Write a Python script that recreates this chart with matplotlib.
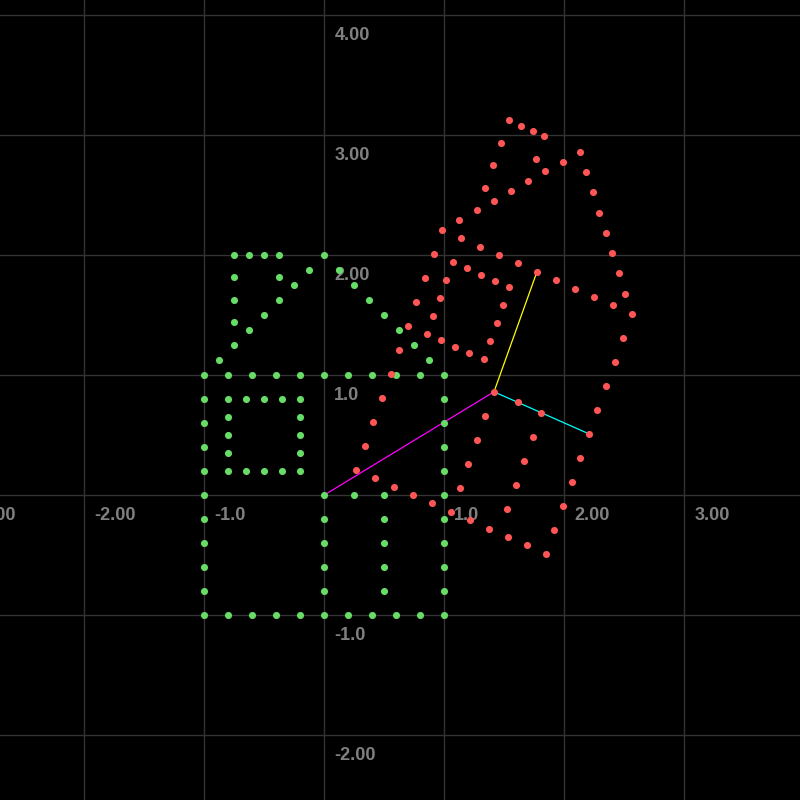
import numpy as np
import matplotlib
matplotlib.use("Agg")
import matplotlib.pyplot as plt

# 原始图形（绿色房子）各点坐标
wall_x = [-1, -0.8, -0.6, -0.4, -0.2, 0, 0.2, 0.4, 0.6, 0.8, 1,
          -1, -0.8, -0.6, -0.4, -0.2, 0, 0.2, 0.4, 0.6, 0.8, 1,
          -1, -1, -1, -1, -1, -1, -1, -1, -1,
          1, 1, 1, 1, 1, 1, 1, 1, 1]
wall_y = [1, 1, 1, 1, 1, 1, 1, 1, 1, 1, 1,
          -1, -1, -1, -1, -1, -1, -1, -1, -1, -1, -1,
          0.8, 0.6, 0.4, 0.2, 0, -0.2, -0.4, -0.6, -0.8,
          0.8, 0.6, 0.4, 0.2, 0, -0.2, -0.4, -0.6, -0.8]

door_x = [0, 0, 0, 0, 0, 0.25, 0.5, 0.5, 0.5, 0.5, 0.5]
door_y = [0, -0.2, -0.4, -0.6, -0.8, 0, 0, -0.2, -0.4, -0.6, -0.8]

window_x = [-0.8, -0.65, -0.5, -0.35, -0.2, -0.8, -0.65, -0.5, -0.35, -0.2,
            -0.8, -0.8, -0.8, -0.2, -0.2, -0.2]
window_y = [0.8, 0.8, 0.8, 0.8, 0.8, 0.2, 0.2, 0.2, 0.2, 0.2,
            0.65, 0.5, 0.35, 0.65, 0.5, 0.35]

roof_x = [-0.875, -0.75, -0.625, -0.5, -0.375, -0.25, -0.125, 0,
          0.125, 0.25, 0.375, 0.5, 0.625, 0.75, 0.875]
roof_y = [1.125, 1.25, 1.375, 1.5, 1.625, 1.75, 1.875, 2,
          1.875, 1.75, 1.625, 1.5, 1.375, 1.25, 1.125]

chimney_x = [-0.75, -0.75, -0.75, -0.75, -0.625, -0.5, -0.375, -0.375]
chimney_y = [1.4375, 1.625, 1.8125, 2, 2, 2, 2, 1.8125]

# 变换：平移向量与矩阵的两列
shift = [1.414, 0.86]
col_i = [0.79, -0.35]   # 青色
col_j = [0.358, 1.0]    # 黄色

# 坐标轴刻度标签
x_ticks = [-3, -2, -1, 1, 2, 3]
x_labels = ["-3.00", "-2.00", "-1.0", "1.0", "2.00", "3.00"]
y_ticks = [4, 3, 2, 1, -1, -2]
y_labels = ["4.00", "3.00", "2.00", "1.0", "-1.0", "-2.00"]

green_x = np.array(wall_x + door_x + window_x + roof_x + chimney_x, dtype=float)
green_y = np.array(wall_y + door_y + window_y + roof_y + chimney_y, dtype=float)

# 变换后的点（红色）
red_x = shift[0] + col_i[0] * green_x + col_j[0] * green_y
red_y = shift[1] + col_i[1] * green_x + col_j[1] * green_y

fig = plt.figure(figsize=(8, 8), dpi=100, facecolor="black")
ax = fig.add_axes([0, 0, 1, 1])
ax.set_facecolor("black")
ax.set_xticks(range(-3, 5))
ax.set_yticks(range(-3, 5))
# 刻度设完后再定范围，否则会被撑大
ax.set_xlim(-2.7025, 3.964)
ax.set_ylim(-2.5417, 4.125)
ax.grid(True, color="#333333", linewidth=1.0, zorder=0)
ax.set_axisbelow(True)
ax.tick_params(length=0, labelbottom=False, labelleft=False)
for s in ax.spines.values():
    s.set_visible(False)

# 刻度文字
for v, lab in zip(x_ticks, x_labels):
    ax.annotate(lab, xy=(v, 0), xytext=(7.2, -18), textcoords="offset points",
                ha="left", va="baseline", fontsize=13, fontweight="bold",
                color="#808080", family=["Liberation Sans", "DejaVu Sans"],
                annotation_clip=False, zorder=1)
for v, lab in zip(y_ticks, y_labels):
    ax.annotate(lab, xy=(0, v), xytext=(7.2, -18), textcoords="offset points",
                ha="left", va="baseline", fontsize=13, fontweight="bold",
                color="#808080", family=["Liberation Sans", "DejaVu Sans"],
                annotation_clip=False, zorder=1)

# 向量
ax.plot([0, shift[0]], [0, shift[1]], color="#ff00ff", linewidth=0.9, zorder=2)
ax.plot([shift[0], shift[0] + col_j[0]], [shift[1], shift[1] + col_j[1]],
        color="#ffff00", linewidth=0.9, zorder=2)
ax.plot([shift[0], shift[0] + col_i[0]], [shift[1], shift[1] + col_i[1]],
        color="#00ffff", linewidth=0.9, zorder=2)

# 点
ax.scatter(green_x, green_y, s=26, color="#66dd66", linewidths=0, zorder=3)
ax.scatter(red_x, red_y, s=26, color="#ff5555", linewidths=0, zorder=4)

fig.savefig("out.png", dpi=100, facecolor="black")
